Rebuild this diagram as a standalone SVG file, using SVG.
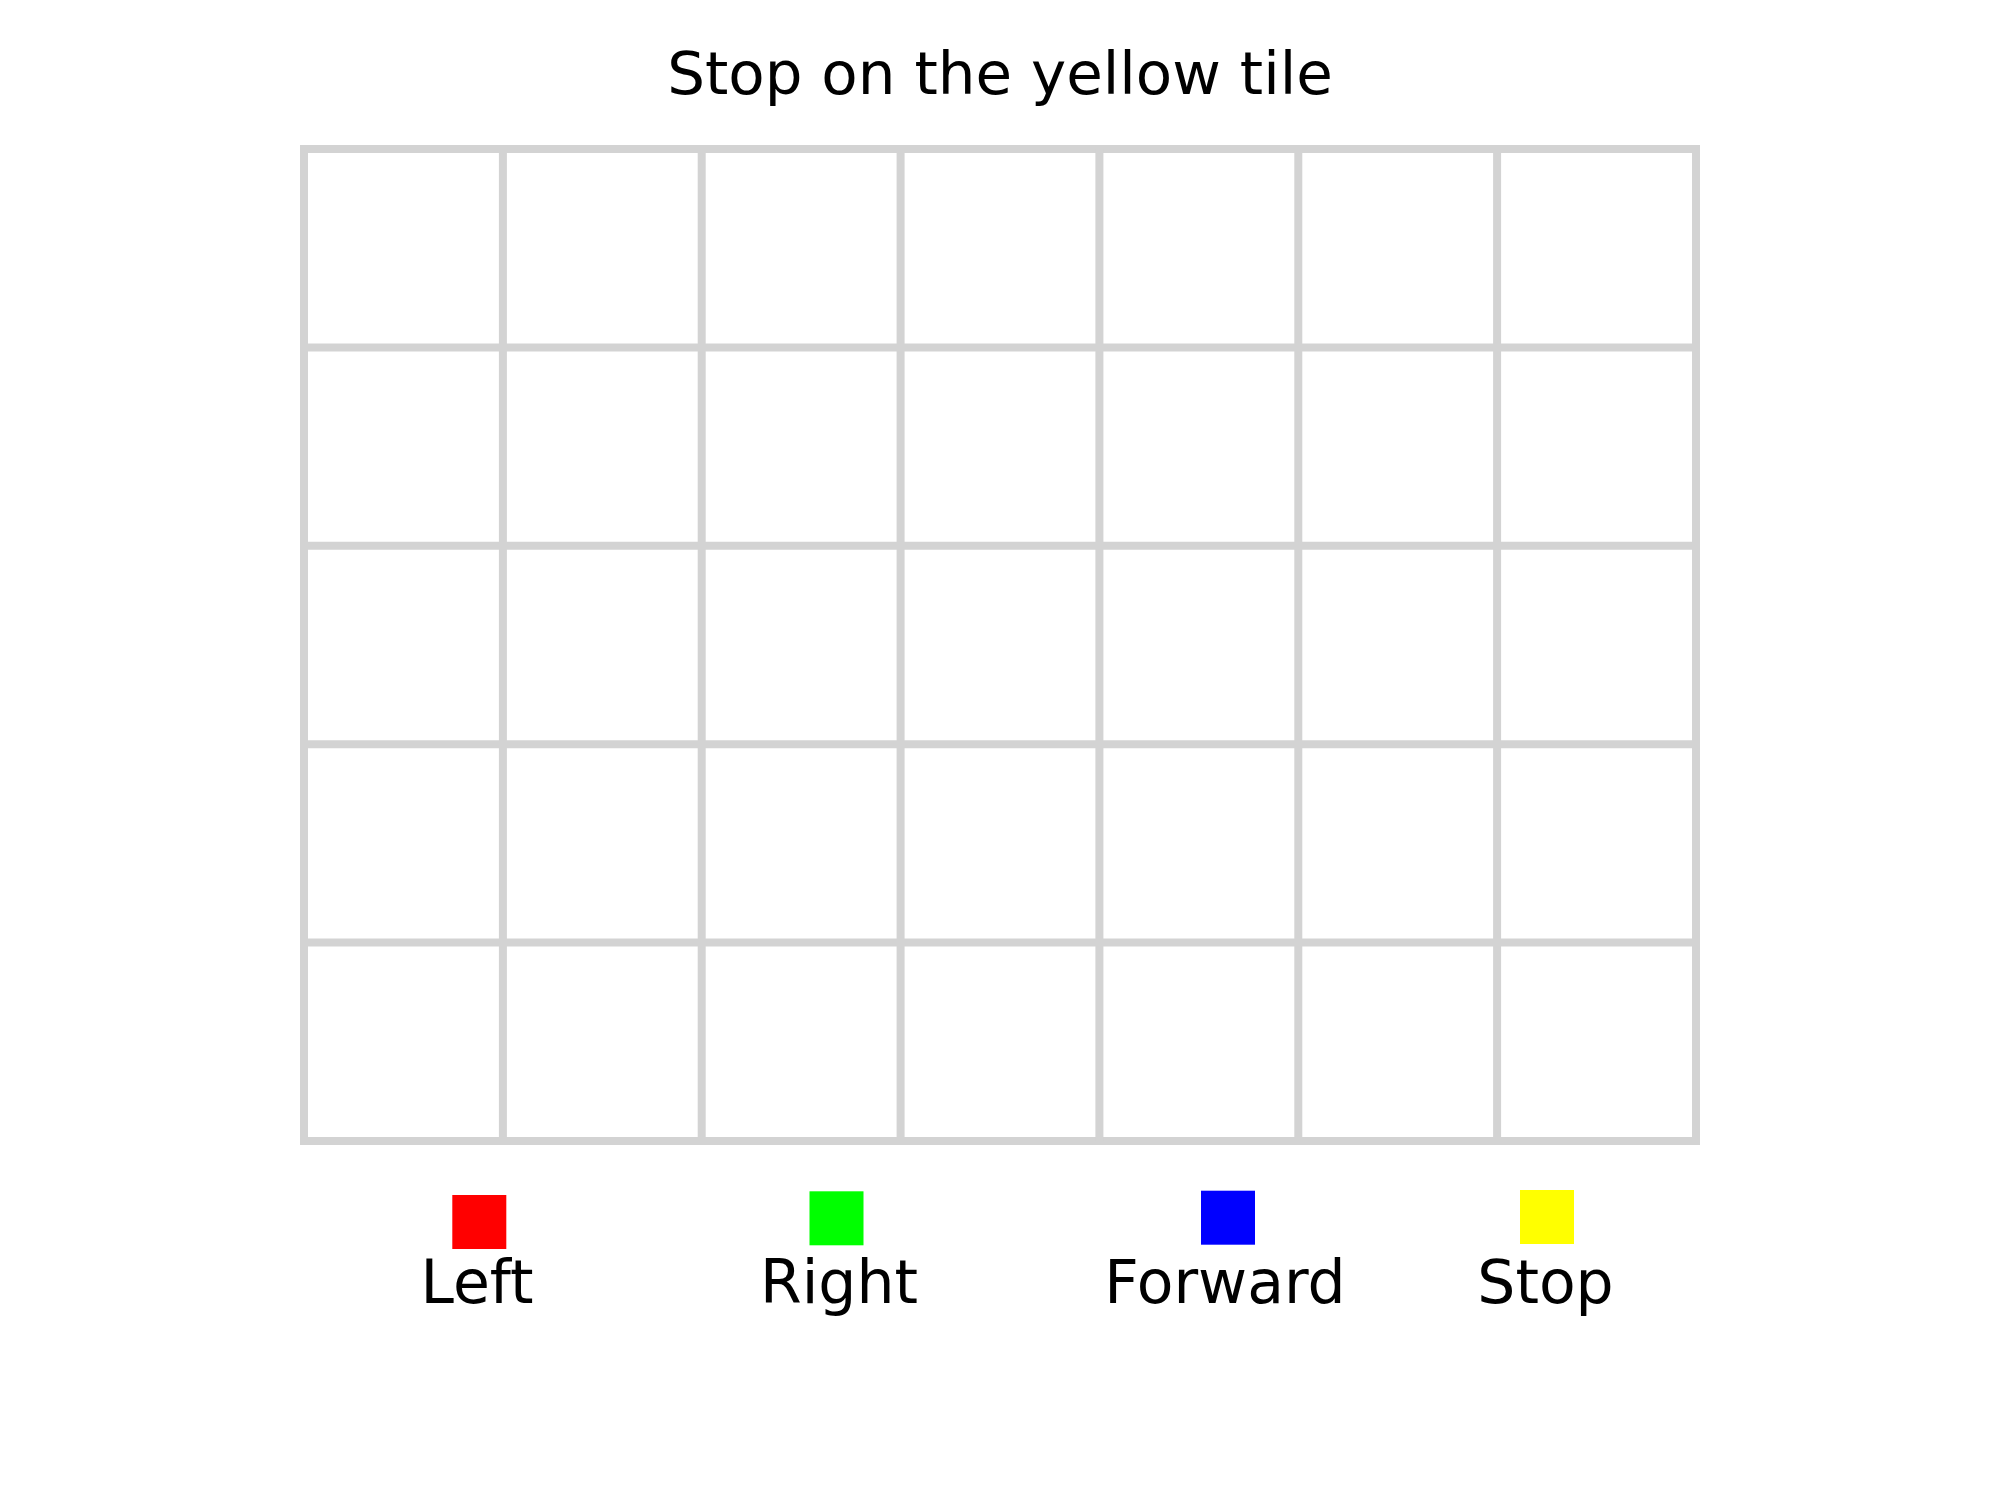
<svg xmlns="http://www.w3.org/2000/svg" width="2000" height="1500" viewBox="0 0 2000 1500">
<style>
.t{font-family:"DejaVu Sans","Liberation Sans",sans-serif;fill:#000;text-anchor:middle}
.g{stroke:#d3d3d3;stroke-width:8;fill:none}
</style>
<rect width="2000" height="1500" fill="#fff"/>
<text class="t" x="1000" y="94" font-size="59.5">Stop on the yellow tile</text>
<g id="grid" class="g">
<rect x="304" y="149" width="1392" height="992"/>
<line x1="502.9" y1="149" x2="502.9" y2="1141"/>
<line x1="701.7" y1="149" x2="701.7" y2="1141"/>
<line x1="900.6" y1="149" x2="900.6" y2="1141"/>
<line x1="1099.4" y1="149" x2="1099.4" y2="1141"/>
<line x1="1298.3" y1="149" x2="1298.3" y2="1141"/>
<line x1="1497.1" y1="149" x2="1497.1" y2="1141"/>
<line x1="304" y1="347.4" x2="1696" y2="347.4"/>
<line x1="304" y1="545.8" x2="1696" y2="545.8"/>
<line x1="304" y1="744.2" x2="1696" y2="744.2"/>
<line x1="304" y1="942.6" x2="1696" y2="942.6"/>
</g>
<g id="legend-left">
<rect x="452.3" y="1195" width="54" height="54" fill="#ff0000"/>
<text class="t" x="477" y="1303" font-size="60">Left</text>
</g>
<g id="legend-right">
<rect x="809.5" y="1191.3" width="54" height="54" fill="#00ff00"/>
<text class="t" x="839" y="1303" font-size="60">Right</text>
</g>
<g id="legend-forward">
<rect x="1201" y="1190.7" width="54" height="54" fill="#0000ff"/>
<text class="t" x="1225" y="1303" font-size="60">Forward</text>
</g>
<g id="legend-stop">
<rect x="1520" y="1190" width="54" height="54" fill="#ffff00"/>
<text class="t" x="1545.5" y="1303" font-size="60">Stop</text>
</g>
<g id="connectors"/>
</svg>
